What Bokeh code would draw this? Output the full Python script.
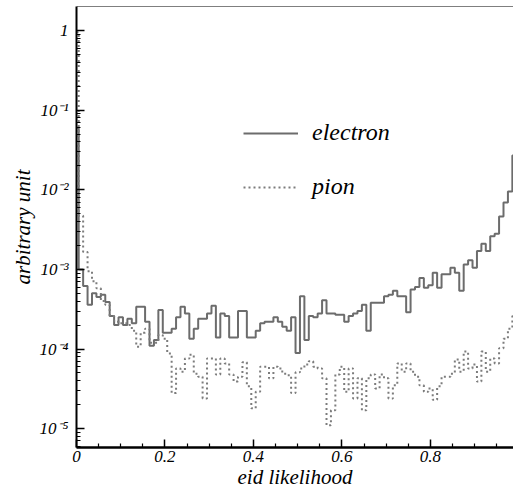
from bokeh.plotting import figure
from bokeh.models import (Range1d, FixedTicker, CustomJSTickFormatter, Legend, LegendItem,
                          Span, ColumnDataSource)
from bokeh.embed import file_html
from bokeh.resources import INLINE

# ---- data (bin centres of eid likelihood, normalised counts) ----
bin_centers = [round(0.01 * i, 2) for i in range(100)]

electron = [
    6.0e-2, 1.0e-3, 6.2e-4, 3.6e-4, 5.0e-4, 4.5e-4, 4.8e-4, 3.9e-4, 2.6e-4, 2.0e-4,
    2.5e-4, 2.0e-4, 2.4e-4, 2.1e-4, 3.4e-4, 3.4e-4, 2.2e-4, 1.1e-4, 1.3e-4, 3.1e-4,
    1.6e-4, 1.6e-4, 1.8e-4, 2.5e-4, 3.4e-4, 2.8e-4, 1.35e-4, 1.8e-4, 2.4e-4, 2.4e-4,
    2.8e-4, 3.5e-4, 1.4e-4, 2.8e-4, 2.6e-4, 1.4e-4, 1.4e-4, 3.0e-4, 3.0e-4, 1.4e-4,
    1.4e-4, 1.7e-4, 2.1e-4, 2.2e-4, 2.2e-4, 2.5e-4, 2.2e-4, 1.9e-4, 1.7e-4, 2.5e-4,
    8.9e-5, 4.6e-4, 1.3e-4, 2.6e-4, 2.5e-4, 2.8e-4, 4.1e-4, 2.8e-4, 2.8e-4, 2.7e-4,
    2.7e-4, 2.2e-4, 2.6e-4, 2.8e-4, 3.0e-4, 3.6e-4, 1.7e-4, 3.8e-4, 3.8e-4, 3.8e-4,
    4.6e-4, 4.8e-4, 5.4e-4, 4.6e-4, 4.6e-4, 2.9e-4, 5.6e-4, 6.0e-4, 7.8e-4, 5.9e-4,
    6.3e-4, 9.1e-4, 5.9e-4, 8.7e-4, 8.7e-4, 1.05e-3, 9.1e-4, 5.4e-4, 1.15e-3, 1.3e-3,
    1.05e-3, 1.7e-3, 2.1e-3, 1.7e-3, 2.6e-3, 2.8e-3, 4.6e-3, 6.9e-3, 9.5e-3, 2.7e-2,
]

pion = [
    9.5e-1, 4.7e-3, 1.65e-3, 9.5e-4, 7.1e-4, 5.8e-4, 4.0e-4, 3.6e-4, 2.6e-4, 2.2e-4,
    2.1e-4, 2.1e-4, 2.0e-4, 1.7e-4, 1.07e-4, 1.6e-4, 1.8e-4, 1.2e-4, 1.2e-4, 1.5e-4,
    1.35e-4, 8.8e-5, 2.8e-5, 5.7e-5, 5.2e-5, 7.6e-5, 8.5e-5, 4.9e-5, 4.5e-5, 2.4e-5,
    7.6e-5, 7.6e-5, 4.8e-5, 7.6e-5, 6.6e-5, 4.8e-5, 3.9e-5, 4.5e-5, 6.8e-5, 3.4e-5,
    1.8e-5, 2.9e-5, 6.0e-5, 6.0e-5, 4.3e-5, 6.0e-5, 5.7e-5, 4.9e-5, 4.7e-5, 2.8e-5,
    5.1e-5, 5.7e-5, 6.4e-5, 7.0e-5, 6.0e-5, 5.7e-5, 4.3e-5, 1.1e-5, 1.7e-5, 4.8e-5,
    6.0e-5, 2.9e-5, 5.7e-5, 2.4e-5, 4.3e-5, 1.7e-5, 4.3e-5, 4.8e-5, 3.2e-5, 4.8e-5,
    4.3e-5, 2.4e-5, 3.5e-5, 6.6e-5, 5.2e-5, 6.6e-5, 5.2e-5, 4.5e-5, 3.5e-5, 2.9e-5,
    3.2e-5, 2.3e-5, 3.4e-5, 4.5e-5, 4.5e-5, 4.9e-5, 7.4e-5, 5.2e-5, 9.3e-5, 5.7e-5,
    6.4e-5, 3.9e-5, 9.3e-5, 5.2e-5, 7.6e-5, 6.6e-5, 1.02e-4, 1.35e-4, 1.8e-4, 2.6e-4,
]

series_names = ["electron", "pion"]

x_tick_values = [0, 0.2, 0.4, 0.6, 0.8]
x_minor_values = [0.05, 0.1, 0.15, 0.25, 0.3, 0.35, 0.45, 0.5, 0.55, 0.65, 0.7, 0.75, 0.85, 0.9, 0.95]
y_tick_values = [1e-5, 1e-4, 1e-3, 1e-2, 1e-1, 1]
y_tick_labels = ["10⁻⁵", "10⁻⁴", "10⁻³", "10⁻²", "10⁻¹", "1"]

x_title = "eid likelihood"
y_title = "arbitrary unit"

# ---- figure ----
FONT = "Liberation Serif"
Y_TOP = 2.0
Y_BOTTOM = 5.8e-6

y_minor = [m * d for d in [1e-6, 1e-5, 1e-4, 1e-3, 1e-2, 1e-1] for m in range(2, 10)]

p = figure(width=513, height=491, y_axis_type="log",
           x_range=Range1d(0, 0.9876), y_range=Range1d(Y_BOTTOM, Y_TOP),
           output_backend="svg", toolbar_location=None,
           min_border_left=76, min_border_right=0, min_border_top=6, min_border_bottom=0)
p.outline_line_color = None
p.grid.visible = False
p.background_fill_color = "white"

src = ColumnDataSource(dict(x=bin_centers, e=electron, pi=pion))
r_e = p.step("x", "e", source=src, mode="center", line_color="#6c6c6c", line_width=2)
r_p = p.step("x", "pi", source=src, mode="center", line_color="#7c7c7c", line_width=2,
             line_dash="2 3")

# top frame line
p.add_layout(Span(location=Y_TOP, dimension="width", line_color="black", line_width=1))

# axes styling
for ax in (p.xaxis[0], p.yaxis[0]):
    ax.axis_line_color = "black"
    ax.major_tick_in = 8
    ax.major_tick_out = 0
    ax.minor_tick_in = 4
    ax.minor_tick_out = 0
    ax.major_tick_line_color = "black"
    ax.minor_tick_line_color = "black"
    ax.major_tick_line_width = 1.5
    ax.minor_tick_line_width = 1.2
    ax.major_label_text_font = FONT
    ax.major_label_text_font_style = "italic"
    ax.major_label_text_font_size = "17px"
    ax.major_label_text_color = "black"
    ax.axis_label_text_font = FONT
    ax.axis_label_text_font_style = "italic"
    ax.axis_label_text_font_size = "21px"
    ax.axis_label_text_color = "black"

p.xaxis[0].axis_line_width = 2.5
p.yaxis[0].axis_line_width = 2
p.xaxis[0].ticker = FixedTicker(ticks=x_tick_values, minor_ticks=x_minor_values)
p.yaxis[0].ticker = FixedTicker(ticks=y_tick_values, minor_ticks=y_minor)
p.yaxis[0].formatter = CustomJSTickFormatter(args=dict(vals=y_tick_values, labels=y_tick_labels), code="""
let best = 0, bd = Infinity;
for (let i = 0; i < vals.length; i++) {
  const d = Math.abs(Math.log10(vals[i]) - Math.log10(tick));
  if (d < bd) { bd = d; best = i; }
}
return labels[best];
""")
p.xaxis[0].axis_label = x_title
p.yaxis[0].axis_label = y_title
p.xaxis[0].major_label_standoff = 3
p.xaxis[0].axis_label_standoff = 0
p.yaxis[0].major_label_standoff = 8
p.yaxis[0].axis_label_standoff = 2

legend = Legend(items=[LegendItem(label=series_names[0], renderers=[r_e]),
                       LegendItem(label=series_names[1], renderers=[r_p])],
                location=(167, 247))
legend.glyph_width = 55
legend.label_standoff = 14
legend.spacing = 27
legend.padding = 0
legend.margin = 0
legend.border_line_color = None
legend.background_fill_alpha = 0
legend.label_text_font = FONT
legend.label_text_font_style = "italic"
legend.label_text_font_size = "24px"
legend.label_text_color = "black"
p.add_layout(legend)

open("out.html", "w", encoding="utf-8").write(file_html(p, INLINE))
